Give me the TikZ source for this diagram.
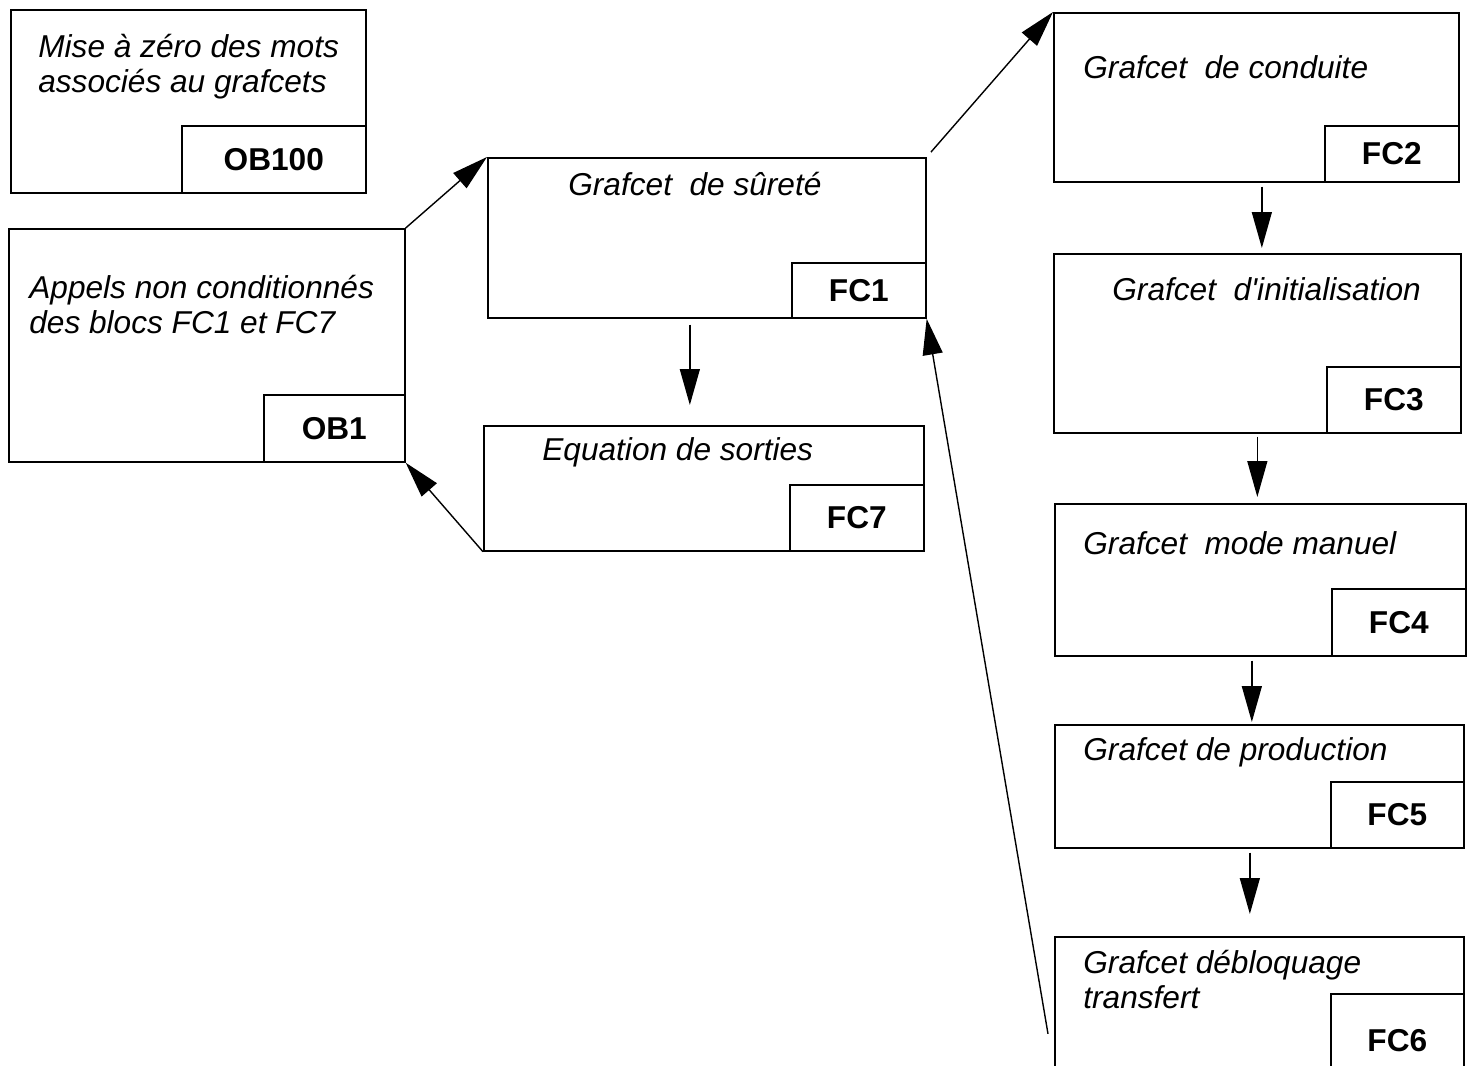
\documentclass[tikz,border=0pt]{standalone}
\usepackage{fontspec}
\setmainfont{Liberation Sans}
\usetikzlibrary{positioning, arrows.meta}
\tikzset{
    base/.style={draw, line width=1pt, inner sep=0pt, rectangle},
    block/.style={base, anchor=north west},
    tag/.style={base, fill=white, anchor=south east, font=\fontsize{18}{20}\selectfont\bfseries},
    title/.style={anchor=base west, inner sep=0pt, align=left, font=\fontsize{18}{19.9}\selectfont\itshape},
    arrow/.style={-{Triangle[length=0.72cm, width=0.4cm]}, line width=0.8pt}
}

\begin{document}
\begin{tikzpicture}[x=0.02cm, y=-0.02cm]
    % Page
    \clip (0,0) rectangle (1470,1065);
    \fill[white] (0,0) rectangle (1470,1065);

    % Organisation blocks
    \node[block, minimum width=7.10cm, minimum height=3.66cm] (ob100) at (10,9) {};
    \node[tag, minimum width=3.68cm, minimum height=1.34cm] (ob100-tag) at (ob100.south east) {OB100};
    \node[title] (ob100-title) at (38,92) {Mise à zéro des mots\\associés au grafcets};

    \node[block, minimum width=7.92cm, minimum height=4.66cm] (ob1) at (8,228) {};
    \node[tag, minimum width=2.82cm, minimum height=1.34cm] (ob1-tag) at (ob1.south east) {OB1};
    \node[title] (ob1-title) at (29,333) {Appels non conditionnés\\des blocs FC1 et FC7};

    % Middle column
    \node[block, minimum width=8.76cm, minimum height=3.20cm] (fc1) at (487,157) {};
    \node[tag, minimum width=2.68cm, minimum height=1.10cm] (fc1-tag) at (fc1.south east) {FC1};
    \node[title] (fc1-title) at (568,195) {Grafcet\ \ de sûreté};

    \node[block, minimum width=8.80cm, minimum height=2.50cm] (fc7) at (483,425) {};
    \node[tag, minimum width=2.68cm, minimum height=1.32cm] (fc7-tag) at (fc7.south east) {FC7};
    \node[title] (fc7-title) at (542,460) {Equation de sorties};

    % Right column
    \node[block, minimum width=8.10cm, minimum height=3.38cm] (fc2) at (1053,12) {};
    \node[tag, minimum width=2.68cm, minimum height=1.12cm] (fc2-tag) at (fc2.south east) {FC2};
    \node[title] (fc2-title) at (1083,78) {Grafcet\ \ de conduite};

    \node[block, minimum width=8.14cm, minimum height=3.58cm] (fc3) at (1053,253) {};
    \node[tag, minimum width=2.68cm, minimum height=1.32cm] (fc3-tag) at (fc3.south east) {FC3};
    \node[title] (fc3-title) at (1112,300) {Grafcet\ \ d\textquotesingle initialisation};

    \node[block, minimum width=8.22cm, minimum height=3.04cm] (fc4) at (1054,503) {};
    \node[tag, minimum width=2.68cm, minimum height=1.34cm] (fc4-tag) at (fc4.south east) {FC4};
    \node[title] (fc4-title) at (1083,554) {Grafcet\ \ mode manuel};

    \node[block, minimum width=8.18cm, minimum height=2.46cm] (fc5) at (1054,724) {};
    \node[tag, minimum width=2.66cm, minimum height=1.32cm] (fc5-tag) at (fc5.south east) {FC5};
    \node[title] (fc5-title) at (1083,760) {Grafcet de production};

    \node[block, minimum width=8.18cm, minimum height=3.00cm] (fc6) at (1054,936) {};
    \node[tag, minimum width=2.66cm, minimum height=1.86cm] (fc6-tag) at (fc6.south east) {FC6};
    \node[title] (fc6-title) at (1083,1008) {Grafcet débloquage\\transfert};

    % Calls
    \draw[arrow] (ob1.north east) -- (fc1.north west);
    \draw[arrow] (fc7.south west) -- (ob1.south east);
    \draw[arrow, shorten <=0.12cm, shorten >=0.4cm] ([xshift=-0.34cm]fc1.south) -- ([xshift=-0.34cm]fc1.south |- fc7.north);
    \draw[arrow, shorten <=0.13cm] (fc1.north east) -- (fc2.north west);
    \draw[arrow, shorten <=0.08cm, shorten >=0.1cm] ([xshift=0.11cm]fc2.south) -- ([xshift=0.11cm]fc2.south |- fc3.north);
    \draw[arrow, shorten <=0.06cm, shorten >=0.12cm] (fc3.south) -- (fc3.south |- fc4.north);
    \draw[arrow, shorten <=0.08cm, shorten >=0.04cm] ([xshift=-0.17cm]fc4.south) -- ([xshift=-0.17cm]fc4.south |- fc5.north);
    \draw[arrow, shorten <=0.08cm, shorten >=0.44cm] ([xshift=-0.19cm]fc5.south) -- ([xshift=-0.19cm]fc5.south |- fc6.north);
    \draw[arrow] ([shift={(-6,22)}]fc6.west) -- (fc1.south east);
\end{tikzpicture}
\end{document}
